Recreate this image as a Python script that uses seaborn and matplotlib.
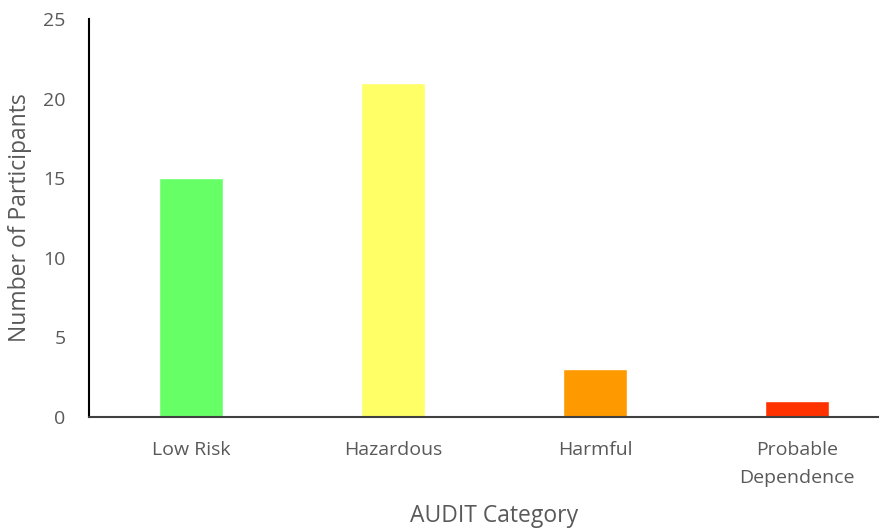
import matplotlib
matplotlib.use("Agg")
import matplotlib.pyplot as plt
import seaborn as sns
import pandas as pd

categories = ["Low Risk", "Hazardous", "Harmful", "Probable\nDependence"]
participants = [15, 21, 3, 1]
bar_colors = ["#66FF66", "#FFFF66", "#FF9900", "#FF3300"]

df = pd.DataFrame({"category": categories, "count": participants})

sns.set_theme(style="white")
plt.rcParams["font.family"] = ["Open Sans", "DejaVu Sans"]

fig = plt.figure(figsize=(8.89, 5.31), dpi=100)
ax = fig.add_axes([0.1001, 0.2147, 0.8875, 0.7495])

sns.barplot(data=df, x="category", y="count", hue="category",
            palette=bar_colors, legend=False, width=0.32, saturation=1,
            ax=ax)

ax.set_xlim(-0.505, 3.40)
ax.set_ylim(0, 25)
ax.set_yticks([0, 5, 10, 15, 20, 25])

text_color = "#595959"
ax.set_xticks(range(len(categories)))
ax.set_xticklabels(categories, linespacing=1.7)
ax.tick_params(axis="both", length=0, colors=text_color, labelsize=14)
ax.tick_params(axis="x", pad=17.5)
ax.tick_params(axis="y", pad=17)

ax.set_xlabel("AUDIT Category", color=text_color, fontsize=16.5, labelpad=12)
ax.xaxis.label.set_x(0.513)
ax.set_ylabel("Number of Participants", color=text_color, fontsize=16.5, labelpad=8)

for side in ["top", "right"]:
    ax.spines[side].set_visible(False)
ax.spines["left"].set_color("black")
ax.spines["left"].set_linewidth(1.5)
ax.spines["bottom"].set_color("#404040")
ax.spines["bottom"].set_linewidth(1.5)

fig.savefig("out.png", dpi=100)
